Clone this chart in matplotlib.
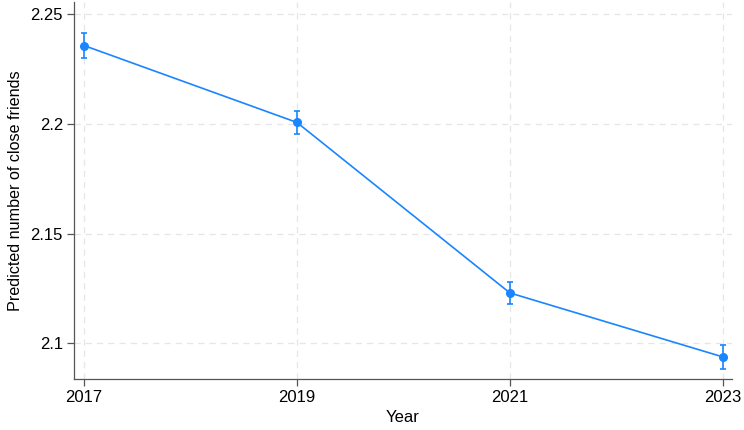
import matplotlib.pyplot as plt

plt.rcParams['font.family'] = ['Liberation Sans', 'DejaVu Sans']

# Predicted values with 95% CIs
years = [2017, 2019, 2021, 2023]
predicted = [2.2358, 2.2007, 2.1229, 2.0937]
ci_half = [0.0055, 0.0052, 0.0051, 0.0055]
y_ticks = [2.1, 2.15, 2.2, 2.25]
y_tick_labels = ["2.1", "2.15", "2.2", "2.25"]

blue = "#1a85ff"

fig = plt.figure(figsize=(7.44, 4.30), dpi=100)
ax = fig.add_axes([0.0995, 0.1195, 0.8845, 0.875])

ax.errorbar(years, predicted, yerr=ci_half, color=blue, marker='o',
            markersize=5.5, linewidth=1.2, elinewidth=1.2, capsize=2.5,
            capthick=1.2, zorder=3)

ax.set_xlim(2016.906, 2023.087)
ax.set_ylim(2.0838, 2.2555)
ax.set_xticks(years)
ax.set_yticks(y_ticks)
ax.set_yticklabels(y_tick_labels)

ax.grid(True, color="#e6e6e6", linestyle=(0, (5, 4)), linewidth=0.9)
ax.set_axisbelow(True)

for side in ['top', 'right']:
    ax.spines[side].set_visible(False)
for side in ['left', 'bottom']:
    ax.spines[side].set_color("#555555")
    ax.spines[side].set_linewidth(0.9)

ax.tick_params(axis='both', labelsize=12, color="#555555", length=5, width=0.9)
ax.tick_params(axis='y', pad=3)

ax.set_xlabel("Year", fontsize=12, labelpad=3)
ax.set_ylabel("Predicted number of close friends", fontsize=11.6, labelpad=5)

fig.savefig("out.png", dpi=100)
